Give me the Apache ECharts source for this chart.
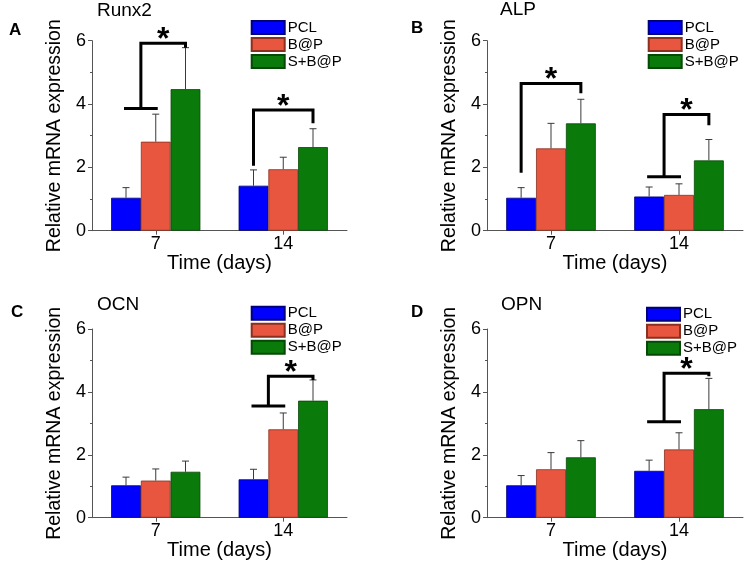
<!DOCTYPE html>
<html><head><meta charset="utf-8">
<script src="https://cdn.jsdelivr.net/npm/echarts@6/dist/echarts.min.js"></script>
<style>html,body{margin:0;padding:0;background:#fff}#c{width:752px;height:570px}</style>
</head><body><div id="c"></div>
<script>
// ---------- data ----------
const categories = ['7', '14'];
const seriesNames = ['PCL', 'B@P', 'S+B@P'];
const yTicks = [0, 2, 4, 6];
const panelTitles = ['Runx2', 'ALP', 'OCN', 'OPN'];
const panelLetters = ['A', 'B', 'C', 'D'];
const xAxisName = 'Time (days)';
const yAxisName = 'Relative mRNA expression';

// Runx2
const runx2Mean = [[1.04, 1.42], [2.81, 1.94], [4.47, 2.64]];
const runx2Err  = [[0.32, 0.50], [0.87, 0.38], [1.31, 0.58]];
// ALP
const alpMean = [[1.04, 1.08], [2.60, 1.13], [3.39, 2.22]];
const alpErr  = [[0.32, 0.30], [0.79, 0.35], [0.76, 0.66]];
// OCN
const ocnMean = [[1.03, 1.22], [1.18, 2.81], [1.46, 3.72]];
const ocnErr  = [[0.26, 0.32], [0.37, 0.52], [0.34, 0.66]];
// OPN
const opnMean = [[1.03, 1.49], [1.54, 2.17], [1.92, 3.45]];
const opnErr  = [[0.31, 0.34], [0.53, 0.53], [0.53, 0.98]];

// significance brackets: [category, leftBarFrom, leftBarTo, rightBar, topValue, leftBottomValue, rightBottomValue]
const runx2Sig = [[0, 0, 1, 2, 5.92, 3.86, 5.78], [1, 0, 0, 2, 3.81, 2.05, 3.39]];
const alpSig   = [[0, 0, 0, 2, 4.65, 1.83, 4.34], [1, 0, 1, 2, 3.67, 1.70, 3.33]];
const ocnSig   = [[1, 0, 1, 2, 4.50, 3.55, 4.38]];
const opnSig   = [[1, 0, 1, 2, 4.59, 3.05, 4.50]];

const panelMeans = [runx2Mean, alpMean, ocnMean, opnMean];
const panelErrs = [runx2Err, alpErr, ocnErr, opnErr];
const panelSigs = [runx2Sig, alpSig, ocnSig, opnSig];

// ---------- style / layout ----------
const FONT = '"Liberation Sans", Arial, Helvetica, sans-serif';
const colors = ['#0000FE', '#E8563F', '#0A7B0A'];
const borders = ['#00007a', '#8a3020', '#064806'];
const grids = [
  {left: 92, top: 40.7, width: 255, height: 190},
  {left: 487, top: 40.7, width: 256, height: 190},
  {left: 92, top: 329, width: 255, height: 188.7},
  {left: 487, top: 329, width: 256, height: 188.7}
];
const legendPos = [
  {left: 250.7, top: 20}, {left: 647.7, top: 20},
  {left: 250.7, top: 305.7}, {left: 646, top: 306.7}
];
const titlePos = [
  {left: 97, top: 1}, {left: 500, top: 0},
  {left: 97, top: 295}, {left: 501, top: 295}
];
const letterPos = [
  {left: 9, top: 22}, {left: 411, top: 20},
  {left: 11, top: 304}, {left: 411, top: 304}
];

const BAR_FRACTION = 0.7; // matches barCategoryGap 30%

function barX(api, cat, idx) {
  const band = api.size([1, 0])[0];
  const bw = band * BAR_FRACTION / 3;
  const cx = api.coord([cat, 0])[0];
  return cx + (idx - 1) * bw;
}

function renderErr(params, api) {
  const cat = api.value(0), bi = api.value(1), v = api.value(2), e = api.value(3);
  const x = barX(api, cat, bi);
  const y0 = api.coord([cat, v])[1];
  const y1 = api.coord([cat, v + e])[1];
  const st = {stroke: '#3a3a3a', lineWidth: 1};
  return {type: 'group', children: [
    {type: 'line', shape: {x1: x, y1: y0, x2: x, y2: y1}, style: st},
    {type: 'line', shape: {x1: x - 3.5, y1: y1, x2: x + 3.5, y2: y1}, style: st}
  ]};
}

function renderSig(params, api) {
  const cat = api.value(0), lf = api.value(1), lt = api.value(2), rb = api.value(3);
  const top = api.value(4), lb = api.value(5), rbt = api.value(6);
  const yTop = api.coord([cat, top])[1];
  const yL = api.coord([cat, lb])[1];
  const yR = api.coord([cat, rbt])[1];
  const xlf = barX(api, cat, lf), xlt = barX(api, cat, lt);
  const xl = (xlf + xlt) / 2, xr = barX(api, cat, rb);
  const st = {stroke: '#000', lineWidth: 3, fill: null, lineJoin: 'miter', lineCap: 'butt'};
  const children = [
    {type: 'polyline', shape: {points: [[xl, yL], [xl, yTop], [xr, yTop], [xr, yR]]}, style: st}
  ];
  if (lf !== lt) {
    children.push({type: 'line', shape: {x1: xlf - 2, y1: yL, x2: xlt + 2, y2: yL}, style: st});
  }
  children.push({type: 'text', style: {text: '*', x: (xl + xr) / 2, y: yTop - 3,
    align: 'center', verticalAlign: 'middle', font: 'bold 32px ' + FONT, fill: '#000'}});
  return {type: 'group', children};
}

const option = {
  animation: false,
  backgroundColor: '#fff',
  title: [],
  legend: [],
  grid: grids,
  xAxis: [],
  yAxis: [],
  series: []
};

for (let p = 0; p < 4; p++) {
  option.title.push({text: panelTitles[p], left: titlePos[p].left, top: titlePos[p].top, padding: 0,
    textStyle: {fontSize: 19, fontWeight: 'normal', color: '#000', fontFamily: FONT}});
  option.title.push({text: panelLetters[p], left: letterPos[p].left, top: letterPos[p].top, padding: 0,
    textStyle: {fontSize: 17, fontWeight: 'bold', color: '#000', fontFamily: FONT}});
  option.legend.push({
    orient: 'vertical', left: legendPos[p].left, top: legendPos[p].top, padding: 0,
    itemWidth: 33, itemHeight: 13, itemGap: 2, icon: 'rect', selectedMode: false,
    data: seriesNames,
    textStyle: {fontSize: 15, color: '#000', fontFamily: FONT, padding: [0, 0, 0, -2]}
  });
  option.xAxis.push({
    type: 'category', gridIndex: p, data: categories,
    name: xAxisName, nameLocation: 'middle', nameGap: 19,
    nameTextStyle: {fontSize: 20, color: '#000', fontFamily: FONT},
    axisLine: {lineStyle: {color: '#555', width: 1}},
    axisTick: {show: true, alignWithLabel: true, length: 4, lineStyle: {color: '#555'}},
    axisLabel: {fontSize: 18, color: '#000', margin: 4, fontFamily: FONT},
    splitLine: {show: false}
  });
  option.yAxis.push({
    type: 'value', gridIndex: p, min: yTicks[0], max: yTicks[yTicks.length - 1],
    interval: yTicks[1] - yTicks[0],
    name: yAxisName, nameLocation: 'middle', nameGap: 27,
    nameTextStyle: {fontSize: 19.5, color: '#000', fontFamily: FONT},
    axisLine: {show: true, lineStyle: {color: '#555', width: 1}},
    axisTick: {show: true, length: 4, lineStyle: {color: '#555'}},
    minorTick: {show: true, splitNumber: 2, length: 2, lineStyle: {color: '#555'}},
    axisLabel: {fontSize: 18, color: '#000', margin: 6, fontFamily: FONT},
    splitLine: {show: false}
  });
  const errData = [];
  for (let s = 0; s < 3; s++) {
    option.series.push({
      type: 'bar', name: seriesNames[s], xAxisIndex: p, yAxisIndex: p,
      data: panelMeans[p][s], barGap: '0%', barCategoryGap: '30%',
      itemStyle: {color: colors[s], borderColor: borders[s], borderWidth: 0.8},
      z: 2
    });
    for (let c = 0; c < categories.length; c++) {
      errData.push([c, s, panelMeans[p][s][c], panelErrs[p][s][c]]);
    }
  }
  option.series.push({
    type: 'custom', xAxisIndex: p, yAxisIndex: p, renderItem: renderErr,
    data: errData, encode: {x: 0, y: 2}, z: 3, silent: true
  });
  option.series.push({
    type: 'custom', xAxisIndex: p, yAxisIndex: p, renderItem: renderSig,
    data: panelSigs[p], encode: {x: 0, y: 4}, z: 4, silent: true
  });
}

const chart = echarts.init(document.getElementById('c'), null, {renderer: 'canvas'});
chart.setOption(option);
</script>
</body></html>
